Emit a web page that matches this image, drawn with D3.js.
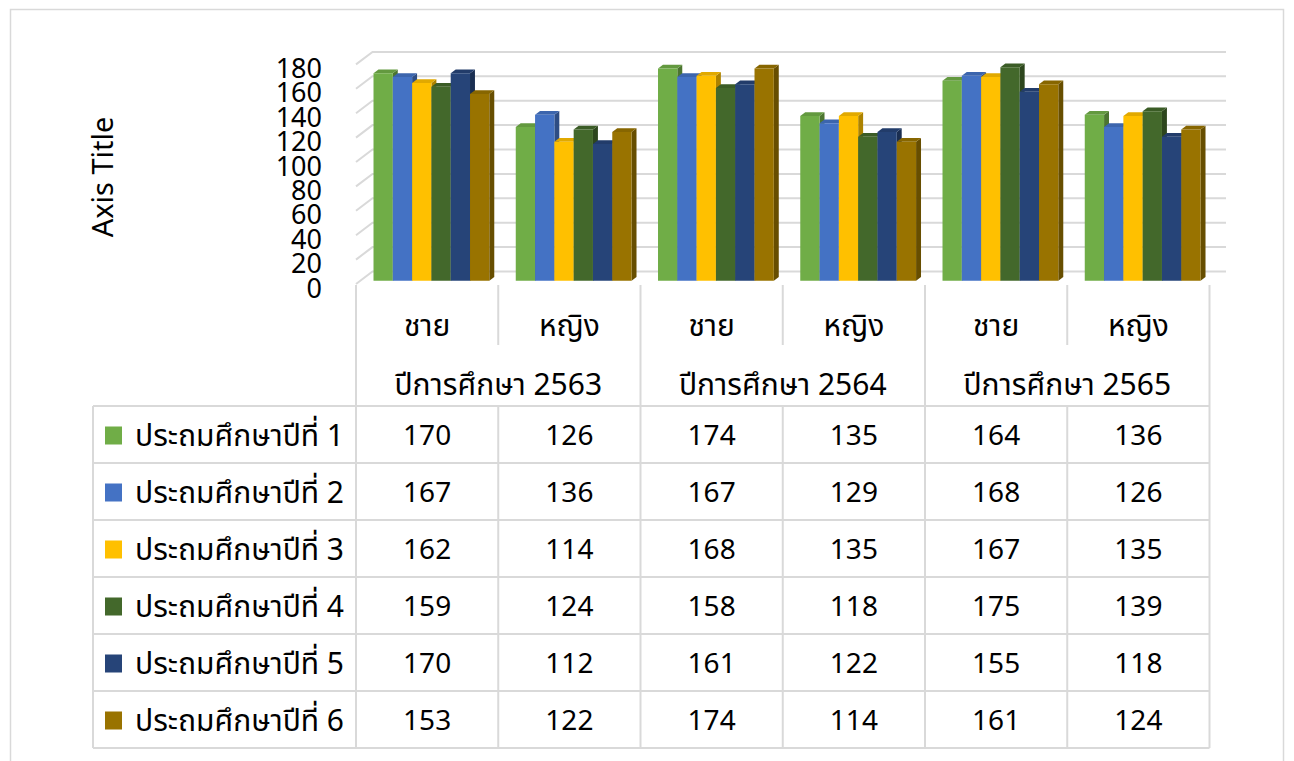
<!DOCTYPE html>
<html>
<head>
<meta charset="utf-8">
<script src="https://cdn.jsdelivr.net/npm/d3@7"></script>
<style>
  html, body { margin: 0; padding: 0; background: #fff; }
  svg { display: block; }
  text { font-family: Tahoma, "Leelawadee UI", "Noto Sans Thai", "Noto Sans", "DejaVu Sans", sans-serif; fill: #000; }
</style>
</head>
<body>
<svg id="chart" width="1294" height="761"></svg>
<script>
// Column labels (gender) and year groups
const genders = ["ชาย", "หญิง", "ชาย", "หญิง", "ชาย", "หญิง"];
const years = ["ปีการศึกษา 2563", "ปีการศึกษา 2564", "ปีการศึกษา 2565"];
const seriesNames = [
  "ประถมศึกษาปีที่ 1", "ประถมศึกษาปีที่ 2", "ประถมศึกษาปีที่ 3",
  "ประถมศึกษาปีที่ 4", "ประถมศึกษาปีที่ 5", "ประถมศึกษาปีที่ 6"
];
const seriesColors = ["#70AD47", "#4472C4", "#FFC000", "#43682B", "#264478", "#997300"];

// Student counts per grade, one value per column (year × gender)
const grade1 = [170, 126, 174, 135, 164, 136];
const grade2 = [167, 136, 167, 129, 168, 126];
const grade3 = [162, 114, 168, 135, 167, 135];
const grade4 = [159, 124, 158, 118, 175, 139];
const grade5 = [170, 112, 161, 122, 155, 118];
const grade6 = [153, 122, 174, 114, 161, 124];
const seriesValues = [grade1, grade2, grade3, grade4, grade5, grade6];

const yTicks = [0, 20, 40, 60, 80, 100, 120, 140, 160, 180];

const svg = d3.select("#chart");
const grid = "#d9d9d9";
const thaiSize = 30, numSize = 28;

// outer chart frame
svg.append("rect")
  .attr("x", 10.5).attr("y", 9.5).attr("width", 1273).attr("height", 800)
  .attr("fill", "none").attr("stroke", grid).attr("stroke-width", 1.5);

// ---- 3D plot geometry (oblique projection) ----
const colIdx = d3.range(genders.length);
const x = d3.scaleBand().domain(colIdx).range([356, 1209.5]);
const inner = d3.scaleBand().domain(d3.range(seriesNames.length))
  .range([0, x.bandwidth()]).paddingInner(0).paddingOuter(0.685);
const y = d3.scaleLinear().domain([0, 180]).range([284, 64.4]);
const depth = { dx: 16.5, dy: -12.5 };
const P = (px, v, t) => [px + t * depth.dx, y(v) + t * depth.dy];

// gridlines: back wall + left side wall
const g = svg.append("g");
yTicks.forEach(v => {
  const a = P(x.range()[0], v, 0), b = P(x.range()[0], v, 1), c = P(x.range()[1], v, 1);
  g.append("path")
    .attr("d", `M${a}L${b}L${c}`)
    .attr("fill", "none").attr("stroke", grid).attr("stroke-width", 2);
});

// y axis labels
const axisG = svg.append("g");
yTicks.forEach(v => {
  axisG.append("text")
    .attr("x", 322).attr("y", y(v) + 5)
    .attr("text-anchor", "end").attr("dominant-baseline", "central")
    .attr("font-size", 27).text(v);
});

svg.append("text")
  .attr("transform", "translate(104,177) rotate(-90)")
  .attr("text-anchor", "middle").attr("dominant-baseline", "central")
  .attr("font-size", 29).text("Axis Title");

// 3D bars
const t0 = 0.26, t1 = 0.56;
const bars = svg.append("g");
colIdx.forEach(c => {
  seriesValues.forEach((vals, s) => {
    const v = vals[c];
    const xl = x(c) + inner(s), xr = xl + inner.bandwidth();
    const col = d3.color(seriesColors[s]);
    const poly = pts => "M" + pts.map(p => p.join(",")).join("L") + "Z";
    // right side face
    bars.append("path")
      .attr("d", poly([P(xr, 0, t0), P(xr, 0, t1), P(xr, v, t1), P(xr, v, t0)]))
      .attr("fill", col.darker(1.1));
    // top face
    bars.append("path")
      .attr("d", poly([P(xl, v, t0), P(xr, v, t0), P(xr, v, t1), P(xl, v, t1)]))
      .attr("fill", col.darker(0.35));
    // front face
    bars.append("path")
      .attr("d", poly([P(xl, 0, t0), P(xr, 0, t0), P(xr, v, t0), P(xl, v, t0)]))
      .attr("fill", col);
  });
});

// ---- data table ----
const tbl = svg.append("g");
const rowTop = 406, rowH = 57, tableLeft = 93;
const xs = [...colIdx.map(c => x(c)), x.range()[1]];
const line = (x1, y1, x2, y2) => tbl.append("line")
  .attr("x1", x1).attr("y1", y1).attr("x2", x2).attr("y2", y2)
  .attr("stroke", grid).attr("stroke-width", 2);

xs.forEach((xv, i) => {
  if (i % 2 === 0) line(xv, 285, xv, rowTop + rowH * 6);
  else { line(xv, 285, xv, 345); line(xv, rowTop, xv, rowTop + rowH * 6); }
});
for (let r = 0; r <= 6; r++) line(tableLeft, rowTop + r * rowH, xs[6], rowTop + r * rowH);
line(tableLeft, rowTop, tableLeft, rowTop + rowH * 6);

// gender labels
colIdx.forEach(c => {
  tbl.append("text")
    .attr("x", x(c) + x.bandwidth() / 2).attr("y", 327)
    .attr("text-anchor", "middle").attr("dominant-baseline", "central")
    .attr("font-size", thaiSize).text(genders[c]);
});
// year labels
years.forEach((yr, i) => {
  tbl.append("text")
    .attr("x", x(i * 2) + x.bandwidth()).attr("y", 386)
    .attr("text-anchor", "middle").attr("dominant-baseline", "central")
    .attr("font-size", thaiSize).text(yr);
});
// rows: legend key + values
seriesNames.forEach((name, s) => {
  const cy = rowTop + s * rowH + rowH / 2 + 2;
  tbl.append("rect").attr("x", 105).attr("y", cy - 10).attr("width", 17).attr("height", 18)
    .attr("fill", seriesColors[s]);
  tbl.append("text").attr("x", 135).attr("y", cy)
    .attr("dominant-baseline", "central").attr("font-size", thaiSize).text(name);
  colIdx.forEach(c => {
    tbl.append("text")
      .attr("x", x(c) + x.bandwidth() / 2).attr("y", cy)
      .attr("text-anchor", "middle").attr("dominant-baseline", "central")
      .attr("font-size", numSize).text(seriesValues[s][c]);
  });
});
</script>
</body>
</html>
